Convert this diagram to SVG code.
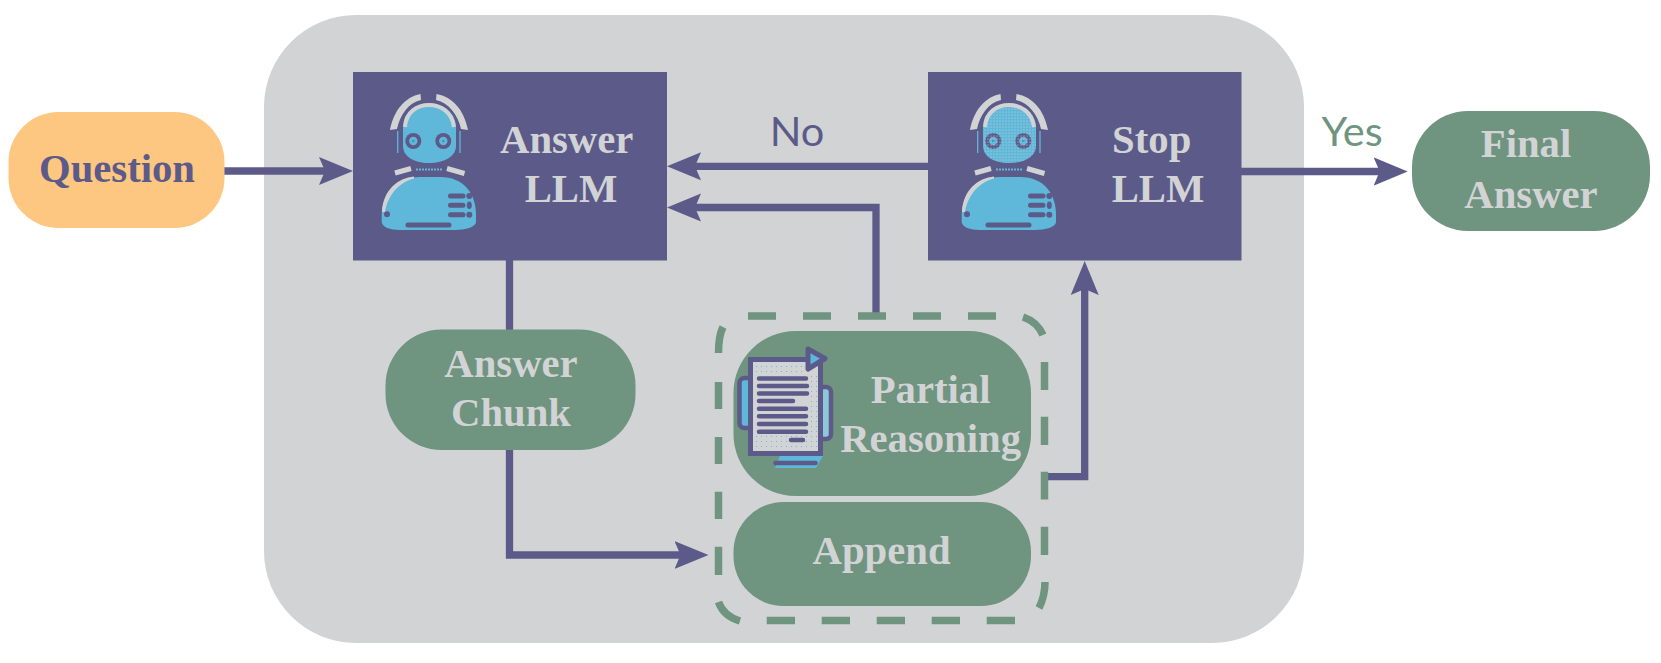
<svg xmlns="http://www.w3.org/2000/svg" width="1661" height="663" viewBox="0 0 1661 663">
<style>
.t{font-family:"Liberation Serif","Times New Roman",serif;font-weight:700;font-size:40.7px;fill:#d2d3d5;text-anchor:middle}
.l{font-family:"Lato","Open Sans",sans-serif;font-size:41.500px;text-anchor:middle}
.box{fill:#5c5a88}
.pill{fill:#6f9480}
.c{fill:none;stroke:#5c5a88;stroke-width:7.3;marker-end:url(#a)}
.c0{fill:none;stroke:#5c5a88;stroke-width:7.3}
.g{fill:#d2d3d5}
.b{fill:#5fb8da}
.p{fill:#5c5a88}
.pl{fill:none;stroke:#5c5a88;stroke-linecap:round}
</style>
<defs>
<marker id="a" markerUnits="userSpaceOnUse" markerWidth="40" markerHeight="40" refX="10" refY="20" orient="auto" viewBox="0 0 40 40">
<path d="M0 6L34 20L0 34L6 20Z" fill="#5c5a88"/>
</marker>
<pattern id="dots" width="3" height="3" patternUnits="userSpaceOnUse"><circle cx="1" cy="1" r=".55" fill="#d2d3d5"/></pattern>
<pattern id="bd" width="5" height="5" patternUnits="userSpaceOnUse"><circle cx="1.500" cy="1.500" r=".6" fill="#5fb8da"/></pattern>
<symbol id="robot" overflow="visible" viewBox="0 0 1661 663" width="1661" height="663">
<path class="b" d="M403 128C403 112 415 104 429 104C443 104 456 112 456 128V146C456 156 445 163 429 163C413 163 403 156 403 146Z"/>
<path d="M405 127C406 112 417 105 429 105C441 105 452 112 454 127" fill="none" stroke="#d2d3d5" stroke-width="4"/>
<path class="g" d="M420.500 94L421 100C408 103 400 115 397 129L390 130C394 110 405 97 420.500 94Z"/>
<path class="g" d="M436.500 94L436 100C449 103 458 115 461 129L468 130C464 110 453 97 436.500 94Z"/>
<path d="M397.700 131V153M460 131V153" stroke="#5fb8da" stroke-width="1.300" fill="none"/>
<circle class="p" cx="413.300" cy="141" r="8"/><circle class="b" cx="413.300" cy="141" r="4.200"/><circle cx="413.300" cy="141" r="1.300" fill="#4f8fb0"/>
<circle class="p" cx="443.300" cy="141" r="8"/><circle class="b" cx="443.300" cy="141" r="4.200"/><circle cx="443.300" cy="141" r="1.300" fill="#4f8fb0"/>
<path d="M395 173L411 168.500M447 168.500L464.500 173.500" stroke="#d2d3d5" stroke-width="5" fill="none"/>
<path d="M416 169.500H442" stroke="#5fb8da" stroke-width="1.800" stroke-dasharray="2 1" fill="none"/>
<path class="b" d="M381.700 215C382 190 400 177 420 177H440C465 177 476 195 476 215V222C476 227 465 230 455 230H400C390 230 382 227 381.700 222Z"/>
<path class="g" d="M382 212C383 190 398 178 414 176.500V178.500C400 182 388 194 385 212Z"/>
<path d="M450.500 196H463M450.500 205.300H463M450.500 214.700H463M408 225H449" class="pl" stroke-width="5"/>
<circle class="p" cx="469.300" cy="196" r="3"/><ellipse class="p" cx="469.300" cy="205.300" rx="2.500" ry="3.800"/><circle class="p" cx="469.300" cy="214.700" r="3"/><circle class="p" cx="387" cy="214.300" r="3"/>
</symbol>
</defs>
<rect id="panel" x="264" y="15" width="1040" height="628" rx="92" fill="#d2d3d5"/>
<g id="connectors">
<path class="c" d="M224 171H329"/>
<path class="c" d="M928 166.300H691"/>
<path class="c" d="M876 316V207.500H691"/>
<path class="c0" d="M509.500 260V330"/>
<path class="c" d="M509.500 450V555H684.500"/>
<path class="c" d="M1047 476.700H1084.700V285"/>
<path class="c" d="M1241 171.500H1383.700"/>
</g>
<g id="question"><rect x="8.500" y="112" width="216" height="116" rx="50" fill="#fdc681"/><text class="t" x="117" y="182" style="fill:#5c5a88">Question</text></g>
<g id="answer-llm"><rect class="box" x="353" y="72" width="314" height="188.500"/><use href="#robot"/><text class="t" x="566.700" y="152.700">Answer</text><text class="t" x="571" y="202">LLM</text></g>
<g id="stop-llm"><rect class="box" x="928" y="72" width="313.500" height="188.500"/><use href="#robot" x="580"/><path d="M984 128C984 112 995 104 1009 104C1023 104 1036 112 1036 128V146C1036 156 1025 163 1009 163C993 163 984 156 984 146Z" fill="url(#dots)"/><text class="t" x="1151.700" y="152.700">Stop</text><text class="t" x="1158" y="202">LLM</text></g>
<g id="final-answer"><rect class="pill" x="1412" y="111" width="238" height="120" rx="56"/><text class="t" x="1526" y="157">Final</text><text class="t" x="1531" y="207.500">Answer</text></g>
<g id="answer-chunk"><rect class="pill" x="385.500" y="329.500" width="250" height="120.500" rx="56"/><text class="t" x="511" y="377">Answer</text><text class="t" x="511" y="426">Chunk</text></g>
<g id="partial-append">
<path fill="none" stroke="#6f9480" stroke-width="7.500" d="M748 316H776M803 316H831M858 316H886M913 316H941M968 316H996M1023 317C1032 320 1039 326 1043 335M1044.500 362V390M1044.500 416.700V445M1044.500 471.700V499.500M1044.500 526.700V555M1045 582C1045 593 1043 600 1039 608M1015 620.500H986.700M960 620.500H931.700M905 620.500H876.700M850 620.500H821.700M795 620.500H766.700M740 621C730 618 722 612 718.500 602M718.500 575V546.700M718.500 519V491.700M718.500 464V437M718.500 409V382M718.500 353C718.500 340 720 333 723 327"/>
<g id="partial-reasoning"><rect class="pill" x="733.500" y="331" width="297.500" height="165" rx="62"/>
<path class="b" d="M780 456H823L816 468H775Z"/>
<path d="M775.500 463H815.500" class="pl" stroke-width="4.500"/>
<rect x="739.500" y="378" width="13" height="50" rx="5" fill="#5fb8da" stroke="#5c5a88" stroke-width="4.500"/>
<rect x="819" y="387" width="12" height="52" rx="5" fill="#8fc6d8" stroke="#5c5a88" stroke-width="4.500"/>
<rect x="750.500" y="359.500" width="70" height="94" fill="#d2d3d5" stroke="#5c5a88" stroke-width="5"/>
<path d="M753 362H806V374H753ZM809 372H818V451H809ZM753 436H809V451H753Z" fill="url(#bd)"/>
<path d="M808 349L825 358.500L808 369Z" fill="#5fb8da" stroke="#5c5a88" stroke-width="5" stroke-linejoin="round"/>
<path d="M759 378.500H806M759 386H807M759 393.500H807M759 401H793M759 408.800H806M759 416.300H806M759 424H806M759 431.700H806M791 440H803" class="pl" stroke-width="4.500"/>
<text class="t" x="930.600" y="403">Partial</text><text class="t" x="930.600" y="452.300">Reasoning</text></g>
<g id="append"><rect class="pill" x="733.500" y="502" width="297.500" height="104" rx="50"/><text class="t" x="881.600" y="563.500">Append</text></g>
</g>
<text class="l" x="797" y="146" style="fill:#5c5a88">No</text>
<text class="l" x="1352" y="146" style="fill:#6f9480">Yes</text>
</svg>
